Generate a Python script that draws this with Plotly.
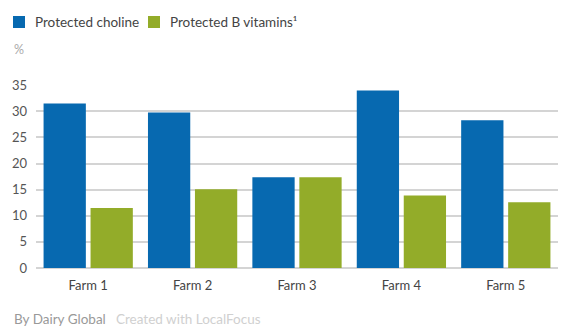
import plotly.graph_objects as go

categories = ["Farm 1", "Farm 2", "Farm 3", "Farm 4", "Farm 5"]
series_names = ["Protected choline", "Protected B vitamins¹"]
choline = [31.5, 29.8, 17.4, 34.0, 28.3]
b_vitamins = [11.5, 15.1, 17.4, 13.9, 12.6]
y_ticks = [0, 5, 10, 15, 20, 25, 30, 35]

BLUE = "#0769b0"
GREEN = "#93ac29"
FONT = "Lato"
W, H = 575, 332
ML, MR, MT, MB = 36, 17, 85, 64

fig = go.Figure()
fig.add_trace(go.Bar(x=categories, y=choline, name=series_names[0],
                     marker=dict(color=BLUE, line=dict(width=0)), showlegend=False))
fig.add_trace(go.Bar(x=categories, y=b_vitamins, name=series_names[1],
                     marker=dict(color=GREEN, line=dict(width=0)), showlegend=False))

def px(x):
    return (x - ML) / (W - ML - MR)

def py(y):
    return (H - MB - y) / (H - MT - MB)

shapes = []
annotations = []
legend_items = [(13, series_names[0], BLUE, 33), (148, series_names[1], GREEN, 168)]
for x0, name, col, tx in legend_items:
    shapes.append(dict(type="rect", xref="paper", yref="paper",
                       x0=px(x0), x1=px(x0 + 12), y0=py(28), y1=py(16),
                       fillcolor=col, line=dict(width=0)))
    annotations.append(dict(text=name, xref="paper", yref="paper", x=px(tx), y=py(22),
                            xanchor="left", yanchor="middle", showarrow=False,
                            font=dict(family=FONT, size=13.5, color="#444444")))

annotations.append(dict(text="%", xref="paper", yref="paper", x=px(12), y=py(49),
                        xanchor="left", yanchor="middle", showarrow=False,
                        font=dict(family=FONT, size=12.5, color="#aaaaaa")))
annotations.append(dict(text="By Dairy Global", xref="paper", yref="paper", x=px(12), y=py(319),
                        xanchor="left", yanchor="middle", showarrow=False,
                        font=dict(family=FONT, size=13.5, color="#999999")))
annotations.append(dict(text="Created with LocalFocus", xref="paper", yref="paper", x=px(114), y=py(319),
                        xanchor="left", yanchor="middle", showarrow=False,
                        font=dict(family=FONT, size=13.5, color="#d0d0d0")))

fig.update_layout(
    width=W, height=H,
    margin=dict(l=ML, r=MR, t=MT, b=MB, pad=0),
    paper_bgcolor="white", plot_bgcolor="white",
    barmode="group", bargap=0.1, bargroupgap=0.1,
    shapes=shapes, annotations=annotations,
    font=dict(family=FONT, size=13, color="#555555"),
    xaxis=dict(showgrid=False, showline=False, ticks="", zeroline=False,
               tickfont=dict(family=FONT, size=13, color="#444444"), ticklabelstandoff=8),
    yaxis=dict(range=[0, 35.05], tickvals=y_ticks, showgrid=True, gridcolor="#d4d4d4",
               gridwidth=2, zeroline=True, zerolinecolor="#d4d4d4", zerolinewidth=2,
               showline=False, ticks="", ticklabelstandoff=8,
               tickfont=dict(family=FONT, size=13, color="#555555")),
)

fig.write_html("out.html")
